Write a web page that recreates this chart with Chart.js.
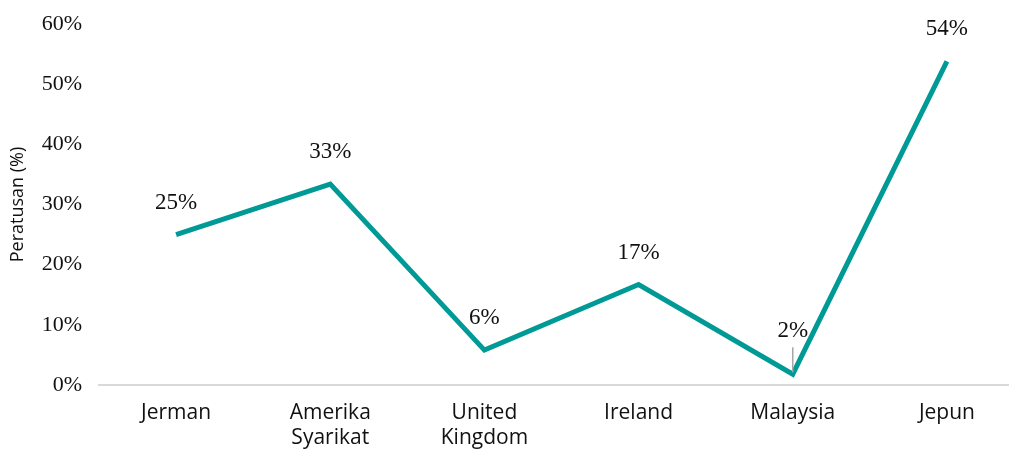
<!DOCTYPE html>
<html>
<head>
<meta charset="utf-8">
<script src="https://cdn.jsdelivr.net/npm/chart.js@4"></script>
<style>
  html, body { margin: 0; padding: 0; background: #fff; overflow: hidden; }
  #wrap { width: 1024px; height: 451px; }
</style>
</head>
<body>
<div id="wrap"><canvas id="lineChart" width="1024" height="451"></canvas></div>
<script>
var countries = [["Jerman"], ["Amerika", "Syarikat"], ["United", "Kingdom"], ["Ireland"], ["Malaysia"], ["Jepun"]];
var growth = [25.0, 33.4, 5.8, 16.7, 1.8, 53.8];
var yTicks = [0, 10, 20, 30, 40, 50, 60];

// value labels above each point, the Malaysia one is lifted with a leader line
var pointLabels = {
    id: 'pointLabels',
    afterDatasetsDraw: function(chart) {
        var ctx = chart.ctx;
        var meta = chart.getDatasetMeta(0);
        ctx.save();
        ctx.font = '23px "Liberation Serif", "Times New Roman", serif';
        ctx.fillStyle = '#111';
        ctx.textAlign = 'center';
        ctx.textBaseline = 'alphabetic';
        meta.data.forEach(function(pt, i) {
            var lift = 26;
            if (i == 4) {
                lift = 37;
                ctx.strokeStyle = '#a6a6a6';
                ctx.lineWidth = 1.5;
                ctx.beginPath();
                ctx.moveTo(pt.x, pt.y - 27);
                ctx.lineTo(pt.x, pt.y - 2);
                ctx.stroke();
            }
            ctx.fillText(Math.round(growth[i]) + '%', pt.x, pt.y - lift);
        });
        ctx.restore();
    }
};

new Chart(document.getElementById("lineChart"), {
    type: 'line',
    data: {
        labels: countries,
        datasets: [{
            label: "Peratusan",
            data: growth,
            borderColor: '#009a96',
            borderWidth: 5,
            pointRadius: 0,
            tension: 0,
            fill: false
        }]
    },
    options: {
        responsive: false,
        animation: false,
        layout: { padding: { top: 24, right: 0, bottom: 0, left: 0 } },
        plugins: {
            legend: { display: false },
            tooltip: { enabled: false }
        },
        scales: {
            x: {
                offset: true,
                grid: { display: false, drawTicks: false },
                border: { display: true, color: '#d9d9d9', width: 2 },
                ticks: {
                    color: '#111',
                    padding: 15,
                    maxRotation: 0,
                    autoSkip: false,
                    font: { family: '"Open Sans", "Liberation Sans", sans-serif', size: 21, lineHeight: 1.2 }
                },
                afterFit: function(scale) { scale.height = 66; }
            },
            y: {
                min: 0,
                max: 60,
                grid: { display: false, drawTicks: true, tickLength: 17 },
                border: { display: false },
                afterBuildTicks: function(scale) {
                    scale.ticks = yTicks.map(function(v) { return { value: v }; });
                },
                ticks: {
                    color: '#111',
                    padding: 0,
                    callback: function(v) { return v + '%'; },
                    font: { family: '"Liberation Serif", "Times New Roman", serif', size: 22 }
                },
                title: {
                    display: true,
                    text: 'Peratusan (%)',
                    color: '#111',
                    padding: { top: 7, bottom: 0 },
                    font: { family: '"Open Sans", "Liberation Sans", sans-serif', size: 18 }
                },
                afterFit: function(scale) { scale.width = 99; }
            }
        }
    },
    plugins: [pointLabels]
});
</script>
</body>
</html>
